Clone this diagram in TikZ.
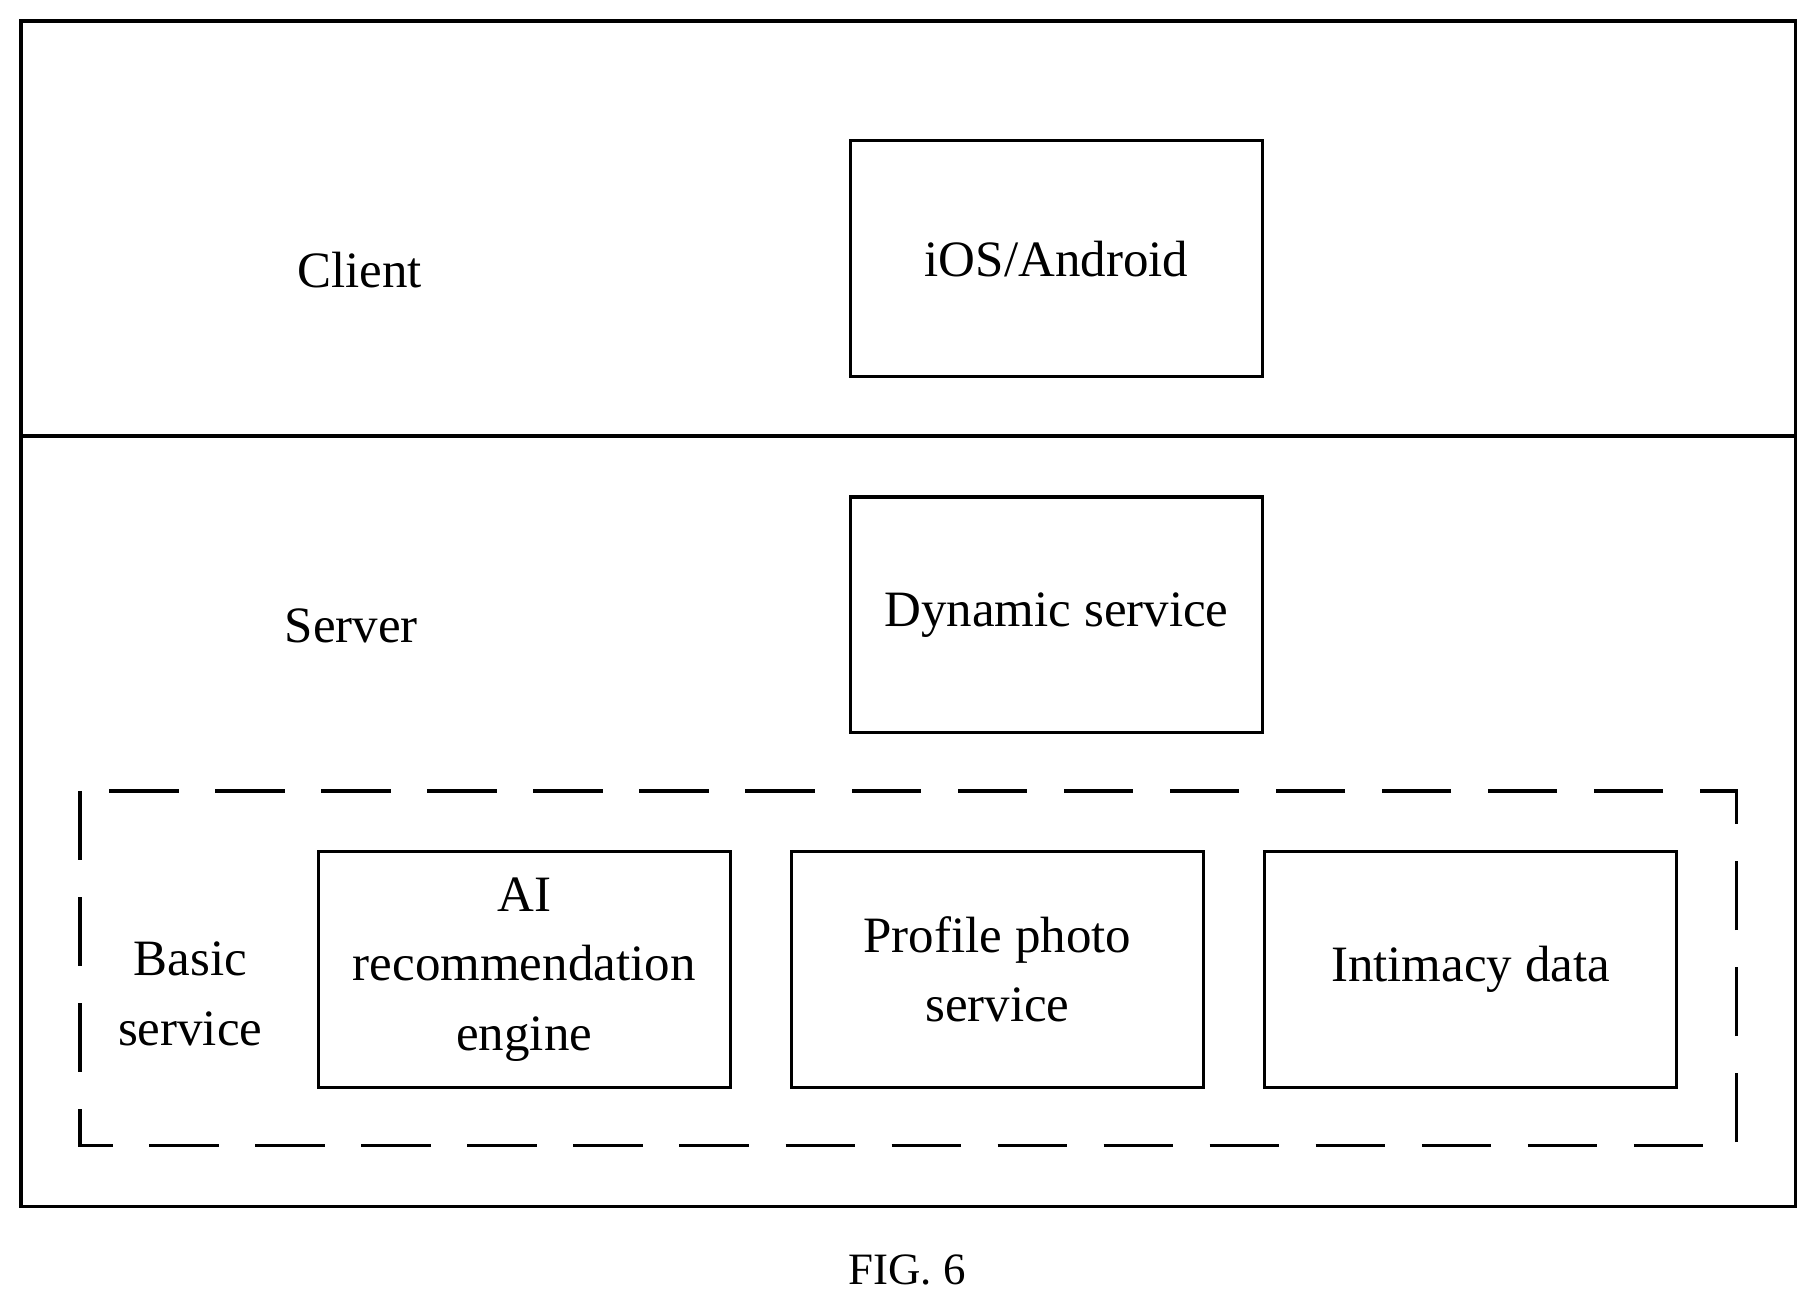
\documentclass[tikz,border=0pt]{standalone}
\usepackage{fontspec}
\setmainfont{Liberation Serif}
\usetikzlibrary{positioning}
\tikzset{
  box/.style={draw, thick, minimum width=3.55cm, minimum height=2.03cm, align=center, font=\fontsize{12.5}{17}\selectfont},
  lbl/.style={align=center, font=\fontsize{12.5}{17}\selectfont}
}
\begin{document}
\begin{tikzpicture}[x=0.01cm,y=-0.01cm]
    \useasboundingbox (0,0) rectangle (1565,1123);
    \draw[thick] (18,18) rectangle (1548,1040);
    \draw[thick] (18,376) -- (1548,376);
    \draw[thick, dash pattern=on 17pt off 9pt] (69,682) rectangle (1497,988);

    \node[lbl] (client) at (310,233) {Client};
    \node[box] (ios) at (911,223) {iOS/Android};
    \node[lbl] (server) at (303,540) {Server};
    \node[box] (dyn) at (911,530) {Dynamic service};

    \node[lbl] (basic) at (164,857) {Basic\\service};
    \node[box] (ai) at (452,836) {AI\\recommendation\\engine};
    \node[box] (photo) at (860,836) {Profile photo\\service};
    \node[box] (intim) at (1268,836) {Intimacy data};

    \node[font=\fontsize{11}{13}\selectfont] (fig) at (782,1095) {FIG. 6};
\end{tikzpicture}
\end{document}
